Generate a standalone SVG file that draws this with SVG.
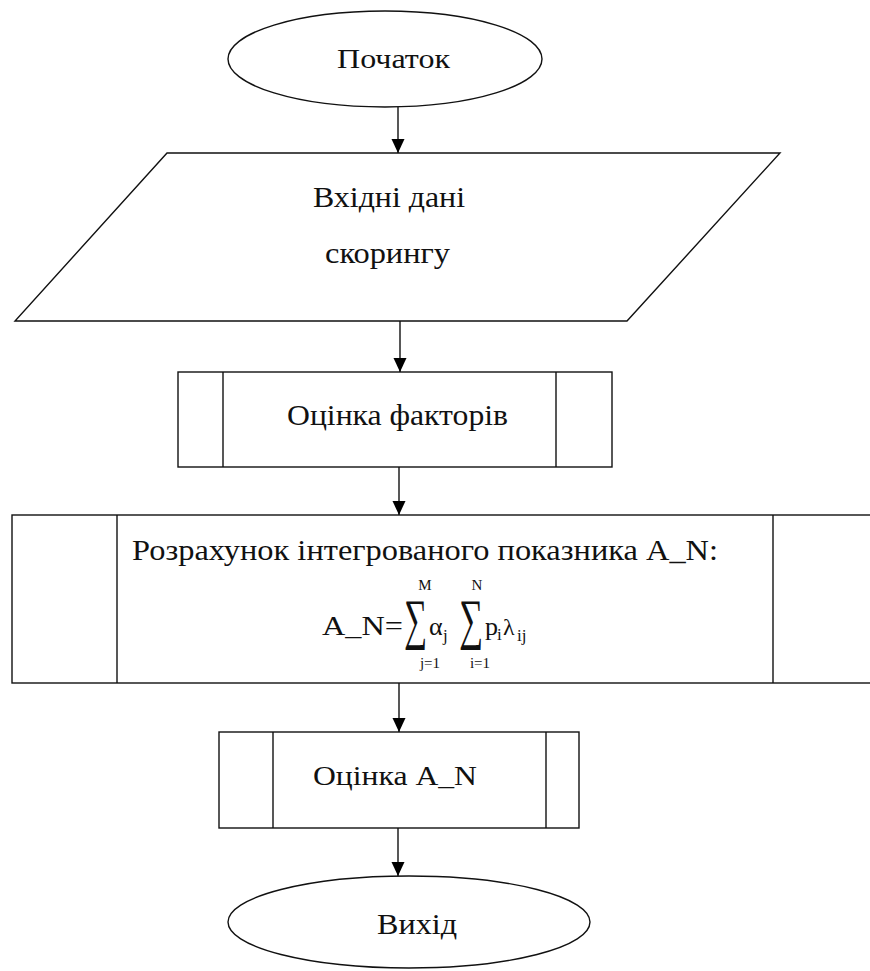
<svg xmlns="http://www.w3.org/2000/svg" width="870" height="971" viewBox="0 0 870 971">
<defs>
<marker id="ah" viewBox="0 0 14 14" refX="14" refY="7" markerWidth="14" markerHeight="14" markerUnits="userSpaceOnUse" orient="auto">
<path d="M0,0.5 L14,7 L0,13.5 z" fill="#000"/>
</marker>
<style>
.shape{fill:#fff;stroke:#111;stroke-width:1.4}
.ln{fill:none;stroke:#111;stroke-width:1.4}
.t{font-family:'Liberation Serif','Times New Roman',serif;fill:#111}
.c{stroke:#111;stroke-width:1.4;fill:none;marker-end:url(#ah)}
</style>
</defs>
<rect width="870" height="971" fill="#fff"/>
<g font-family="Liberation Serif, Times New Roman, serif">

<g id="start">
<ellipse class="shape" cx="385" cy="59" rx="157" ry="48"/>
<text class="t" x="337" y="68" font-size="27" textLength="113" lengthAdjust="spacingAndGlyphs">Початок</text>
</g>

<g id="input">
<polygon class="shape" points="167,153 780,153 627,321 15,321"/>
<text class="t" x="313" y="207" font-size="30" textLength="152" lengthAdjust="spacingAndGlyphs">Вхідні дані</text>
<text class="t" x="325" y="263" font-size="30" textLength="125" lengthAdjust="spacingAndGlyphs">скорингу</text>
</g>

<g id="factors">
<rect class="shape" x="178" y="372" width="434" height="95"/>
<line class="ln" x1="223" y1="372" x2="223" y2="467"/>
<line class="ln" x1="556" y1="372" x2="556" y2="467"/>
<text class="t" x="287" y="425" font-size="30" textLength="221" lengthAdjust="spacingAndGlyphs">Оцінка факторів</text>
</g>

<g id="calc">
<rect class="shape" x="12" y="515" width="870" height="168"/>
<line class="ln" x1="117" y1="515" x2="117" y2="683"/>
<line class="ln" x1="773" y1="515" x2="773" y2="683"/>
<text class="t" x="132" y="560" font-size="29" textLength="586" lengthAdjust="spacingAndGlyphs">Розрахунок інтегрованого показника A_N:</text>
<text class="t" x="322" y="635" font-size="27" textLength="81" lengthAdjust="spacingAndGlyphs">A_N=</text>
<text class="t" x="404" y="638" font-size="56" textLength="23" lengthAdjust="spacingAndGlyphs">∑</text>
<text class="t" x="429" y="635" font-size="26">α</text>
<text class="t" x="443" y="641" font-size="17">j</text>
<text class="t" x="459" y="638" font-size="56" textLength="24" lengthAdjust="spacingAndGlyphs">∑</text>
<text class="t" x="485" y="635" font-size="26">p</text>
<text class="t" x="497" y="640" font-size="17">i</text>
<text class="t" x="503" y="635" font-size="24">λ</text>
<text class="t" x="517" y="641" font-size="17">ij</text>
<text class="t" x="425" y="590" font-size="15" text-anchor="middle">M</text>
<text class="t" x="477" y="590" font-size="15" text-anchor="middle">N</text>
<text class="t" x="430" y="668" font-size="15" text-anchor="middle">j=1</text>
<text class="t" x="480" y="668" font-size="15" text-anchor="middle">i=1</text>
</g>

<g id="evaluate">
<rect class="shape" x="219" y="732" width="360" height="96"/>
<line class="ln" x1="273" y1="732" x2="273" y2="828"/>
<line class="ln" x1="546" y1="732" x2="546" y2="828"/>
<text class="t" x="313" y="785" font-size="28" textLength="164" lengthAdjust="spacingAndGlyphs">Оцінка A_N</text>
</g>

<g id="end">
<ellipse class="shape" cx="409" cy="922" rx="181" ry="46"/>
<text class="t" x="377" y="934" font-size="30" textLength="80" lengthAdjust="spacingAndGlyphs">Вихід</text>
</g>

</g>
<g id="connectors">
<line class="c" x1="398" y1="107" x2="398" y2="153"/>
<line class="c" x1="400" y1="321" x2="400" y2="372"/>
<line class="c" x1="399" y1="467" x2="399" y2="515"/>
<line class="c" x1="399" y1="683" x2="399" y2="732"/>
<line class="c" x1="398" y1="828" x2="398" y2="876"/>
</g>
</svg>
